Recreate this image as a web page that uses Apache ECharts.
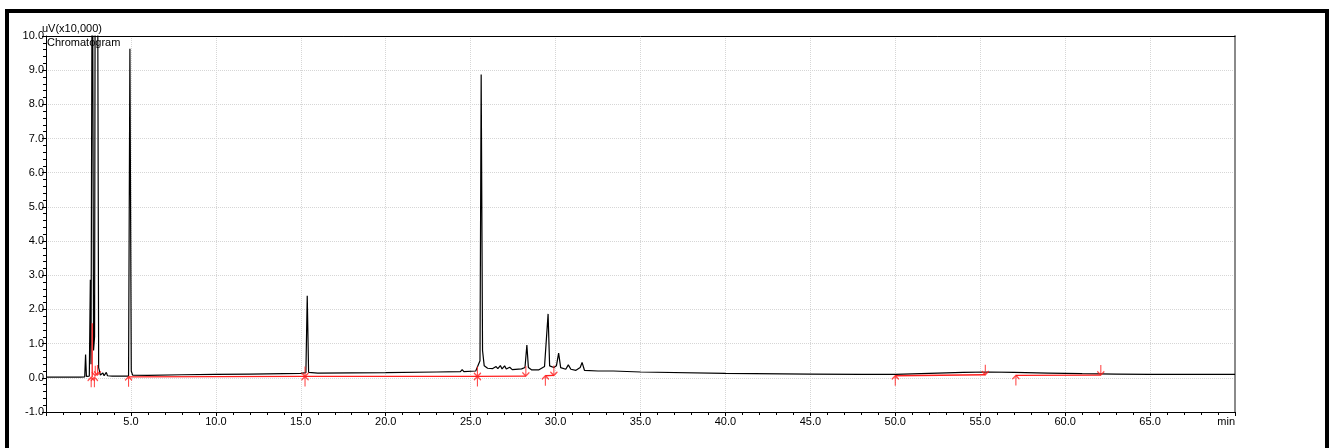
<!DOCTYPE html>
<html>
<head>
<meta charset="utf-8">
<script src="https://cdn.jsdelivr.net/npm/echarts@6/dist/echarts.min.js"></script>
<style>
  html, body { margin: 0; padding: 0; background: #fff; }
  #chart { width: 1334px; height: 448px; }
</style>
</head>
<body>
<div id="chart"></div>
<script>
// retention time (min) and detector signal (uV x10,000)
const traceTime = [
  0, 1.0, 2.0, 2.28, 2.33, 2.38, 2.55, 2.61, 2.65, 2.73, 2.8, 2.86, 2.92, 2.96, 3.01, 3.1,
  3.2, 3.35, 3.42, 3.55, 3.62, 3.9, 4.5, 4.86, 4.94, 5.02, 5.1, 6.0, 8.0, 10.0, 12.0,
  15.0, 15.3, 15.38, 15.46, 16.0, 20.0, 23.0, 24.4, 24.5, 24.6, 25.3, 25.55, 25.62,
  25.7, 25.8, 26.0, 26.3, 26.5, 26.6, 26.75, 26.85, 27.0, 27.1, 27.3, 27.45, 28.0,
  28.2, 28.31, 28.4, 28.6, 29.0, 29.35, 29.45, 29.56, 29.65, 29.9, 30.05, 30.18, 30.3,
  30.6, 30.75, 30.9, 31.2, 31.45, 31.56, 31.7, 32.5, 33.2, 33.3, 33.4, 35.0, 40.0,
  45.0, 48.0, 50.0, 52.0, 54.0, 55.5, 57.0, 59.0, 61.0, 63.0, 65.0, 67.5, 70.0
];
const traceValue = [
  0.02, 0.02, 0.02, 0.03, 0.68, 0.04, 0.05, 2.87, 0.4, 15, 0.8, 1.2, 20, 12, 18, 0.3,
  0.08, 0.14, 0.06, 0.16, 0.06, 0.05, 0.05, 0.05, 9.63, 0.2, 0.08, 0.07, 0.09, 0.1, 0.11,
  0.13, 0.15, 2.4, 0.16, 0.14, 0.15, 0.17, 0.18, 0.24, 0.18, 0.2, 0.5, 8.87,
  0.8, 0.35, 0.28, 0.27, 0.33, 0.27, 0.36, 0.26, 0.35, 0.26, 0.31, 0.24, 0.26,
  0.3, 0.96, 0.3, 0.23, 0.23, 0.33, 0.3, 1.87, 0.35, 0.3, 0.35, 0.72, 0.3,
  0.25, 0.38, 0.25, 0.22, 0.3, 0.45, 0.22, 0.2, 0.2, 0.24, 0.2, 0.17, 0.13,
  0.11, 0.1, 0.1, 0.13, 0.16, 0.17, 0.16, 0.14, 0.12, 0.11, 0.1, 0.1, 0.1
];

// integration baselines: [start time, start value, end time, end value]
const baselineSegments = [
  [2.72, 0.02, 2.72, 1.6],
  [4.86, 0.03, 15.25, 0.04],
  [15.25, 0.04, 25.4, 0.04],
  [25.4, 0.04, 28.25, 0.05],
  [29.4, 0.06, 29.9, 0.07],
  [50.0, 0.06, 55.3, 0.09],
  [57.1, 0.07, 62.1, 0.08]
];

// peak start / end markers
const startTimes = [2.66, 2.85, 4.86, 15.25, 25.4, 29.4, 50.0, 57.1];
const startValues = [0.02, 0.02, 0.03, 0.04, 0.04, 0.06, 0.06, 0.07];
const endTimes = [2.9, 3.03, 15.25, 25.4, 28.25, 29.9, 55.3, 62.1];
const endValues = [0.06, 0.08, 0.04, 0.04, 0.05, 0.07, 0.09, 0.08];

const xMin = 0, xMax = 70, xStep = 5;
const yMin = -1, yMax = 10, yStep = 1;

const chart = echarts.init(document.getElementById('chart'));
const red = '#ff1f1f';
const font = 'Arial, "Liberation Sans", sans-serif';

const series = [];
series.push({
  type: 'line',
  data: traceTime.map((t, i) => [t, traceValue[i]]),
  symbol: 'none',
  lineStyle: { color: '#000', width: 1.2 },
  clip: true,
  z: 3,
  silent: true
});
baselineSegments.forEach(s => {
  series.push({
    type: 'line',
    data: [[s[0], s[1]], [s[2], s[3]]],
    symbol: 'none',
    lineStyle: { color: red, width: 1.3 },
    z: 4,
    silent: true
  });
});
series.push({
  type: 'scatter',
  data: startTimes.map((t, i) => [t, startValues[i]]),
  symbol: 'path://M0,4L4,0L8,4M4,0L4,11',
  symbolSize: [7, 10],
  symbolOffset: [0, 5],
  itemStyle: { color: 'rgba(0,0,0,0)', borderColor: red, borderWidth: 1.3 },
  z: 5,
  silent: true
});
series.push({
  type: 'scatter',
  data: endTimes.map((t, i) => [t, endValues[i]]),
  symbol: 'path://M0,7L4,11L8,7M4,11L4,0',
  symbolSize: [7, 10],
  symbolOffset: [0, -5],
  itemStyle: { color: 'rgba(0,0,0,0)', borderColor: red, borderWidth: 1.3 },
  z: 5,
  silent: true
});

const option = {
  animation: false,
  grid: { left: 46, top: 36, right: 99, bottom: 36 },
  xAxis: [
    {
      type: 'value',
      min: xMin, max: xMax, interval: xStep,
      axisLine: { onZero: false, lineStyle: { color: '#000', width: 1 } },
      axisTick: { length: 4, lineStyle: { color: '#000' } },
      minorTick: { show: true, splitNumber: 5, length: 3, lineStyle: { color: '#000' } },
      splitLine: { lineStyle: { color: '#d6d6d6', type: 'dotted' } },
      axisLabel: {
        margin: 4,
        color: '#000',
        fontSize: 11,
        fontFamily: font,
        showMinLabel: false,
        alignMaxLabel: 'right',
        formatter: v => (v === xMax ? 'min' : v.toFixed(1))
      }
    },
    {
      type: 'value', position: 'top',
      min: xMin, max: xMax,
      axisLine: { show: true, onZero: false, lineStyle: { color: '#000', width: 1 } },
      axisTick: { show: false }, axisLabel: { show: false }, splitLine: { show: false }
    }
  ],
  yAxis: [
    {
      type: 'value',
      min: yMin, max: yMax, interval: yStep,
      axisLine: { show: true, onZero: false, lineStyle: { color: '#000', width: 1 } },
      axisTick: { length: 4, lineStyle: { color: '#000' } },
      minorTick: { show: true, splitNumber: 5, length: 3, lineStyle: { color: '#000' } },
      splitLine: { lineStyle: { color: '#d6d6d6', type: 'dotted' } },
      axisLabel: {
        margin: 2,
        color: '#000',
        fontSize: 11,
        fontFamily: font,
        formatter: v => v.toFixed(1)
      }
    },
    {
      type: 'value', position: 'right',
      min: yMin, max: yMax,
      axisLine: { show: true, onZero: false, lineStyle: { color: '#8a8a8a', width: 2 } },
      axisTick: { show: false }, axisLabel: { show: false }, splitLine: { show: false }
    }
  ],
  graphic: [
    {
      type: 'rect',
      shape: { x: 7, y: 11, width: 1320, height: 520 },
      style: { fill: 'none', stroke: '#000', lineWidth: 4 },
      silent: true
    },
    {
      type: 'text', left: 42, top: 23,
      style: { text: 'uV(x10,000)', fill: '#000', font: '11px ' + font }
    },
    {
      type: 'text', left: 47, top: 37,
      style: { text: 'Chromatogram', fill: '#000', font: '11px ' + font }
    }
  ],
  series: series
};
chart.setOption(option);
</script>
</body>
</html>
